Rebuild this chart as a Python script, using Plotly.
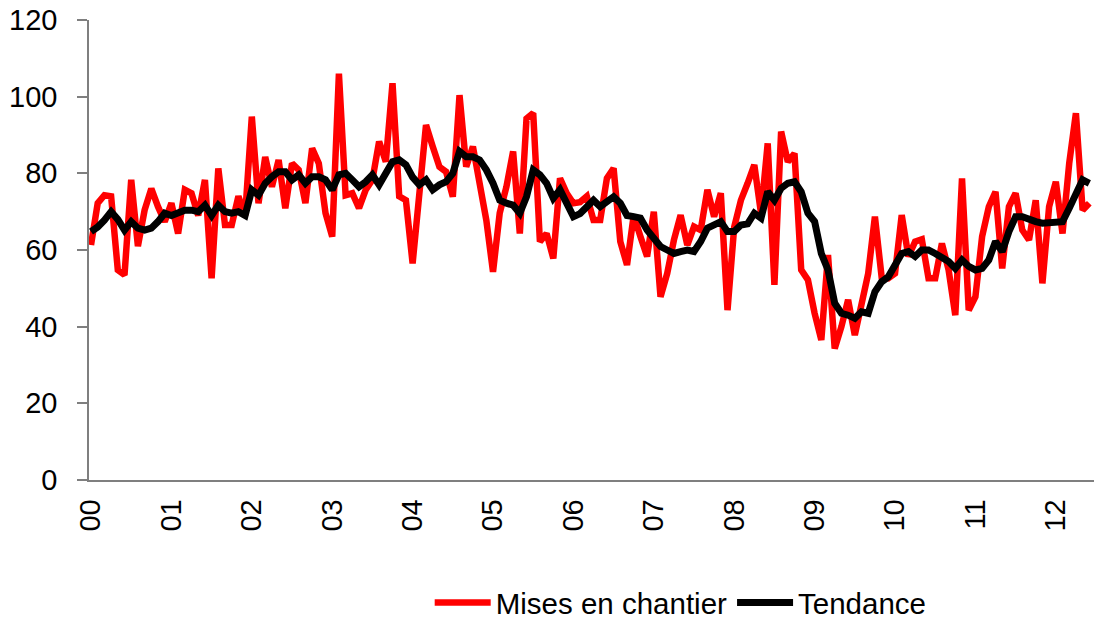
import plotly.graph_objects as go

months = [f"{2000 + k // 12}-{k % 12 + 1:02d}" for k in range(150)]

mises_en_chantier = [
    61.3, 72.2, 74.3, 74.0, 54.8, 53.5, 78.3, 61.0, 70.4, 76.0, 71.3, 67.4,
    72.2, 64.3, 75.7, 74.8, 69.0, 78.3, 52.6, 81.3, 66.5, 66.5, 74.0, 69.0,
    94.8, 72.2, 84.3, 76.5, 83.5, 70.9, 82.6, 80.9, 72.2, 86.5, 82.6, 69.6,
    63.5, 106.0, 74.3, 74.8, 70.9, 75.7, 78.3, 88.3, 83.0, 103.5, 74.0, 73.0,
    56.5, 74.0, 92.6, 87.0, 81.7, 80.4, 73.9, 100.4, 81.7, 87.0, 77.4, 67.8,
    54.3, 69.6, 76.5, 85.7, 64.3, 94.3, 95.7, 62.2, 64.3, 57.8, 78.7, 74.8,
    72.2, 72.5, 74.0, 67.8, 67.8, 78.7, 81.3, 62.2, 56.1, 69.1, 63.5, 58.3,
    70.0, 47.8, 53.9, 62.6, 69.1, 61.3, 66.1, 65.2, 75.7, 68.7, 74.8, 44.3,
    66.0, 73.0, 77.4, 82.2, 69.6, 87.8, 50.9, 90.9, 83.0, 85.2, 54.8, 52.2,
    43.5, 36.5, 58.7, 34.3, 40.0, 47.0, 37.8, 46.1, 53.9, 68.7, 53.0, 52.6,
    53.9, 69.1, 58.3, 62.2, 62.8, 52.6, 52.6, 61.7, 54.8, 43.0, 78.7, 44.3,
    47.8, 63.5, 71.3, 75.2, 55.2, 71.3, 74.8, 65.2, 62.6, 73.0, 51.3, 71.3,
    77.8, 64.3, 82.6, 95.7, 70.4, 72.2,
]

tendance = [
    64.8, 66.0, 67.8, 70.0, 68.0, 65.2, 67.4, 65.7, 65.2, 65.7, 67.4, 69.6,
    69.0, 69.6, 70.4, 70.4, 70.0, 71.7, 69.0, 71.7, 70.0, 69.6, 70.0, 69.0,
    75.7, 74.3, 77.4, 79.1, 80.4, 80.4, 78.3, 79.6, 77.4, 79.1, 79.1, 78.3,
    75.7, 79.6, 80.0, 78.3, 76.5, 77.8, 79.6, 77.0, 80.0, 83.0, 83.5, 82.2,
    79.0, 77.0, 78.3, 75.7, 77.0, 77.8, 80.0, 85.7, 84.3, 84.3, 83.5, 80.9,
    77.4, 73.0, 72.2, 71.7, 69.6, 73.9, 80.9, 79.6, 77.4, 73.5, 75.7, 72.2,
    68.7, 69.5, 71.3, 73.0, 71.3, 72.6, 73.9, 72.2, 69.0, 68.7, 68.3, 65.2,
    63.0, 60.9, 60.0, 59.1, 59.6, 60.0, 59.6, 62.2, 65.7, 66.5, 67.4, 64.8,
    64.8, 66.5, 66.8, 69.6, 68.3, 75.2, 73.0, 76.1, 77.4, 77.8, 75.2, 69.6,
    67.4, 59.1, 54.8, 46.1, 43.5, 43.0, 42.2, 43.9, 43.5, 49.1, 51.7, 53.0,
    55.7, 59.1, 59.6, 58.3, 60.0, 60.0, 59.1, 58.3, 57.0, 55.2, 57.4, 55.7,
    54.8, 55.2, 57.4, 62.2, 59.6, 64.8, 68.7, 68.7, 67.8, 67.4, 67.0, 67.0,
    67.0, 67.4, 70.9, 74.8, 78.3, 77.4,
]

tick_months = [f"{y}-01" for y in range(2000, 2013)]
tick_labels = [f"{y % 100:02d}" for y in range(2000, 2013)]

fig = go.Figure()
fig.add_trace(go.Scatter(x=months, y=mises_en_chantier, mode="lines",
                         name="Mises en chantier",
                         line=dict(color="#FF0000", width=6.5)))
fig.add_trace(go.Scatter(x=months, y=tendance, mode="lines",
                         name="Tendance",
                         line=dict(color="#000000", width=7)))

family = "Liberation Sans, Arial, sans-serif"
font = dict(family=family, size=29, color="#000000")

fig.update_layout(
    width=1094, height=619,
    margin=dict(l=89, r=0, t=20, b=139, autoexpand=False),
    paper_bgcolor="white", plot_bgcolor="white",
    font=font,
    showlegend=True,
    legend=dict(orientation="h", x=0.339, y=-0.267, xanchor="left", yanchor="middle",
                font=dict(family=family, size=29.5, color="#000000"),
                itemwidth=56, tracegroupgap=0, bgcolor="rgba(0,0,0,0)"),
    xaxis=dict(type="category", range=[-0.3, 149.7], automargin=False,
               tickmode="array", tickvals=tick_months, ticktext=tick_labels,
               tickangle=-90, ticks="", showgrid=False, zeroline=False,
               showline=True, linecolor="#7f7f7f", linewidth=1.5,
               ticklabelstandoff=6, tickfont=font),
    yaxis=dict(range=[0, 120], tickvals=[0, 20, 40, 60, 80, 100, 120], automargin=False,
               ticks="outside", ticklen=10, tickcolor="#7f7f7f", tickwidth=1.5,
               showgrid=False, zeroline=False,
               showline=True, linecolor="#7f7f7f", linewidth=1.5,
               ticklabelstandoff=14, tickfont=font),
)

fig.write_html("out.html", config={"displayModeBar": False},
               post_script="document.body.style.margin='0';document.body.style.overflow='hidden';")
